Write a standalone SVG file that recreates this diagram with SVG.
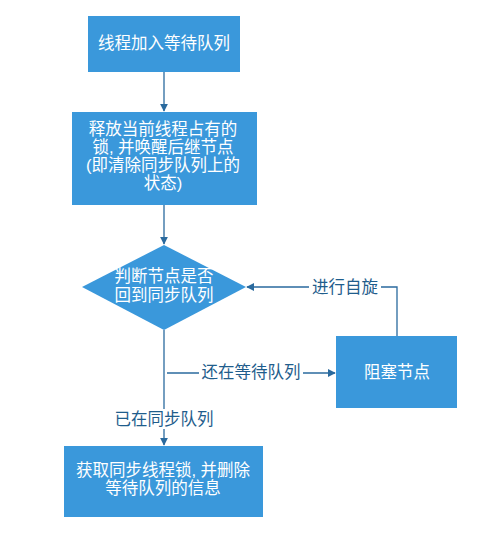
<svg xmlns="http://www.w3.org/2000/svg" width="496" height="539" viewBox="0 0 496 539">
<defs>
<style>
.box{fill:#3a98db;}
.bt{font-family:"Liberation Sans","Noto Sans CJK SC",sans-serif;font-size:16.5px;fill:#ffffff;text-anchor:middle;dominant-baseline:central;}
.lbl{font-family:"Liberation Sans","Noto Sans CJK SC",sans-serif;font-size:16.5px;fill:#1f5d8c;text-anchor:middle;dominant-baseline:central;}
.ln{stroke:#2a6a9e;stroke-width:1.3;fill:none;}
</style>
<marker id="ah" viewBox="0 0 10 10" refX="9" refY="5" markerWidth="8" markerHeight="8" markerUnits="userSpaceOnUse" orient="auto">
<path d="M0,0 L10,5 L0,10 z" fill="#2a6a9e"/>
</marker>
</defs>
<rect width="496" height="539" fill="#ffffff"/>
<g id="connectors">
<line class="ln" x1="164" y1="72" x2="164" y2="111" marker-end="url(#ah)"/>
<line class="ln" x1="164" y1="205" x2="164" y2="244" marker-end="url(#ah)"/>
<polyline class="ln" points="397,336 397,287 247,287" marker-end="url(#ah)"/>
<line class="ln" x1="164" y1="330" x2="164" y2="445" marker-end="url(#ah)"/>
<line class="ln" x1="167" y1="373" x2="335" y2="373" marker-end="url(#ah)"/>
<rect x="309" y="277" width="72" height="20" fill="#ffffff"/>
<text class="lbl" x="345" y="287">进行自旋</text>
<rect x="199" y="363" width="104" height="20" fill="#ffffff"/>
<text class="lbl" x="251" y="372">还在等待队列</text>
<rect x="112" y="409" width="104" height="20" fill="#ffffff"/>
<text class="lbl" x="164" y="419">已在同步队列</text>
</g>
<g id="n1">
<rect class="box" x="88" y="16" width="152" height="56"/>
<text class="bt" x="164" y="43">线程加入等待队列</text>
</g>
<g id="n2">
<rect class="box" x="72" y="112" width="185" height="93"/>
<text class="bt" x="163" y="129">释放当前线程占有的</text>
<text class="bt" x="163" y="147">锁, 并唤醒后继节点</text>
<text class="bt" x="163" y="165">(即清除同步队列上的</text>
<text class="bt" x="163" y="183">状态)</text>
</g>
<g id="n3">
<polygon class="box" points="164,245 246,287 164,330 82,287"/>
<text class="bt" x="164" y="276">判断节点是否</text>
<text class="bt" x="164" y="295">回到同步队列</text>
</g>
<g id="n4">
<rect class="box" x="336" y="336" width="121" height="72"/>
<text class="bt" x="397" y="372">阻塞节点</text>
</g>
<g id="n5">
<rect class="box" x="64" y="446" width="199" height="71"/>
<text class="bt" x="163" y="470">获取同步线程锁, 并删除</text>
<text class="bt" x="163" y="488">等待队列的信息</text>
</g>
</svg>
